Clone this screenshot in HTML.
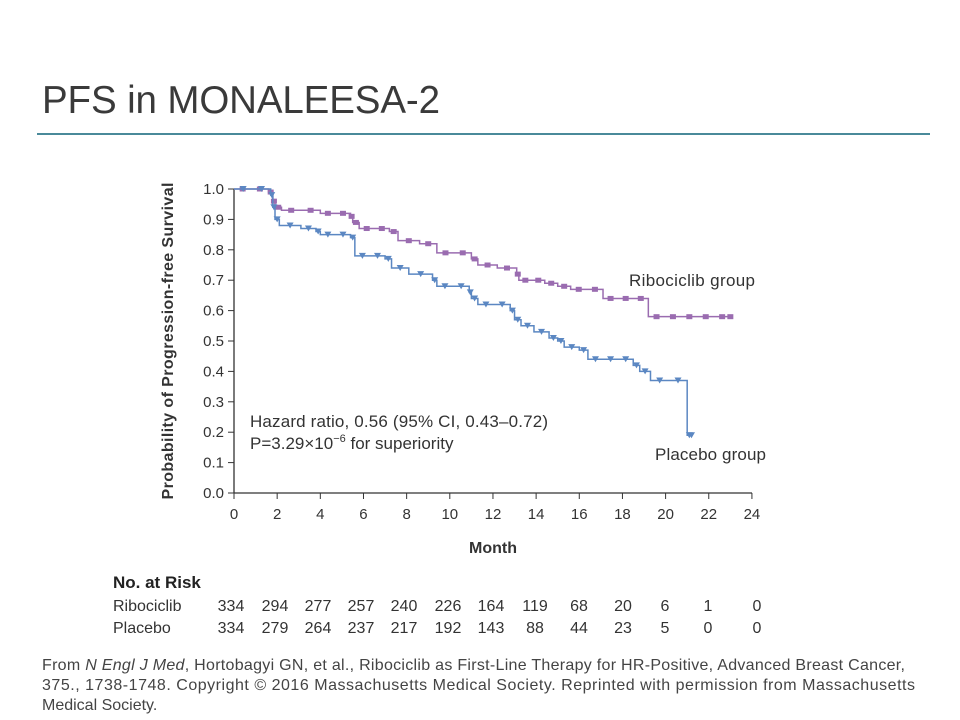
<!DOCTYPE html>
<html><head><meta charset="utf-8"><style>
body{margin:0;background:#fff;width:960px;height:720px;overflow:hidden;font-family:"Liberation Sans",sans-serif}
svg{position:absolute;left:0;top:0}
</style></head><body>
<svg id="s" width="960" height="720" xmlns="http://www.w3.org/2000/svg" font-family="Liberation Sans, sans-serif">
<text x="42" y="113" font-size="38.5" fill="#3a3a3a" textLength="398">PFS in MONALEESA-2</text>
<line x1="37" y1="134" x2="930" y2="134" stroke="#4a8a9a" stroke-width="2"/>
<g id="axes" stroke="#333" stroke-width="1.3" fill="none">
<line x1="234" y1="189" x2="234" y2="493"/>
<line x1="234" y1="493" x2="752" y2="493"/>
</g>
<g id="ticks"></g>
<text x="0" y="0" transform="translate(173,341) rotate(-90)" text-anchor="middle" font-size="16" font-weight="bold" fill="#333" textLength="317">Probability of Progression-free Survival</text>
<text x="493" y="553" text-anchor="middle" font-size="16" font-weight="bold" fill="#333">Month</text>
<g id="curves"></g>
<text x="629" y="286" font-size="17" fill="#333" textLength="126">Ribociclib group</text>
<text x="655" y="460" font-size="17" fill="#333" textLength="111">Placebo group</text>
<text x="250" y="427" font-size="17" fill="#333" textLength="298">Hazard ratio, 0.56 (95% CI, 0.43–0.72)</text>
<text x="250" y="449" font-size="17" fill="#333">P=3.29×10<tspan dy="-7" font-size="11">−6</tspan><tspan dy="7"> for superiority</tspan></text>
<text x="113" y="588" font-size="17" font-weight="bold" fill="#222">No. at Risk</text>
<text x="113" y="611" font-size="16" fill="#333">Ribociclib</text>
<text x="113" y="633" font-size="16" fill="#333">Placebo</text>
<g id="risk" font-size="16" fill="#333" text-anchor="middle"></g>
<text x="42" y="670" font-size="16" fill="#444" textLength="863">From <tspan font-style="italic">N Engl J Med</tspan>, Hortobagyi GN, et al., Ribociclib as First-Line Therapy for HR-Positive, Advanced Breast Cancer,</text>
<text x="42" y="690" font-size="16" fill="#444" textLength="873">375., 1738-1748. Copyright © 2016 Massachusetts Medical Society. Reprinted with permission from Massachusetts</text>
<text x="42" y="710" font-size="16" fill="#444">Medical Society.</text>
</svg>
<script>
var NS="http://www.w3.org/2000/svg";
function el(t,a,p,txt){var e=document.createElementNS(NS,t);for(var k in a)e.setAttribute(k,a[k]);if(txt!=null)e.textContent=txt;document.getElementById(p).appendChild(e);return e;}
function X(m){return 234+m*21.58}function Y(v){return 493-v*304}
for(var i=0;i<=10;i++){var y=Y(i/10);el("line",{x1:228,y1:y,x2:234,y2:y,stroke:"#333"},"ticks");el("text",{x:224,y:y+5,"text-anchor":"end","font-size":15,fill:"#333"},"ticks",(i/10).toFixed(1));}
for(var m=0;m<=24;m+=2){var x=X(m);el("line",{x1:x,y1:493,x2:x,y2:499,stroke:"#333"},"ticks");el("text",{x:x,y:519,"text-anchor":"middle","font-size":15,fill:"#333"},"ticks",m);}
var rib=[[0,1],[1.6,.99],[1.8,.96],[1.9,.94],[2.2,.93],[4,.92],[5.4,.91],[5.5,.89],[5.8,.87],[7.2,.86],[7.6,.83],[8.6,.82],[9.4,.79],[11,.77],[11.3,.75],[12.2,.74],[13.1,.72],[13.2,.70],[14.4,.69],[15,.68],[15.6,.67],[17.1,.64],[19.2,.58],[23,.58]];
var pla=[[0,1],[1.7,.98],[1.8,.94],[1.9,.9],[2.1,.88],[3.1,.87],[3.8,.86],[4,.85],[5.4,.84],[5.6,.78],[7,.77],[7.3,.74],[8.1,.72],[9.2,.7],[9.4,.68],[10.9,.66],[11,.64],[11.3,.62],[12.8,.6],[13,.57],[13.3,.55],[13.9,.53],[14.6,.51],[15,.5],[15.3,.48],[16,.47],[16.4,.44],[18.5,.42],[18.8,.4],[19.3,.37],[21,.19],[21.2,.19]];
function draw(d,c,tri){var p="M"+X(d[0][0])+","+Y(d[0][1]);for(var i=1;i<d.length;i++){p+=" H"+X(d[i][0])+" V"+Y(d[i][1]);}
el("path",{d:p,stroke:c,"stroke-width":1.5,fill:"none"},"curves");
for(var i=0;i<d.length-1;i++){var n=Math.max(1,Math.round((d[i+1][0]-d[i][0])*1.3));for(var k=0;k<n;k++){var m=d[i][0]+(d[i+1][0]-d[i][0])*(k+0.5)/n;var x=X(m),y=Y(d[i][1]);
if(tri)el("path",{d:"M"+(x-3.5)+","+(y-3)+" L"+(x+3.5)+","+(y-3)+" L"+x+","+(y+3)+"Z",fill:c},"curves");else el("rect",{x:x-3,y:y-2.5,width:6,height:5,fill:c},"curves");}}
var l=d[d.length-1];var x=X(l[0]),y=Y(l[1]);if(tri)el("path",{d:"M"+(x-3.5)+","+(y-3)+" L"+(x+3.5)+","+(y-3)+" L"+x+","+(y+3)+"Z",fill:c},"curves");else el("rect",{x:x-3,y:y-2.5,width:6,height:5,fill:c},"curves");}
draw(rib,"#9a6cb0",false);draw(pla,"#5b87c2",true);
var r1=[334,294,277,257,240,226,164,119,68,20,6,1,0],r2=[334,279,264,237,217,192,143,88,44,23,5,0,0];
var xs=[231,275,318,361,404,448,491,535,579,623,665,708,757];
for(var i=0;i<13;i++){el("text",{x:xs[i],y:611},"risk",r1[i]);el("text",{x:xs[i],y:633},"risk",r2[i]);}
</script>
</body></html>
